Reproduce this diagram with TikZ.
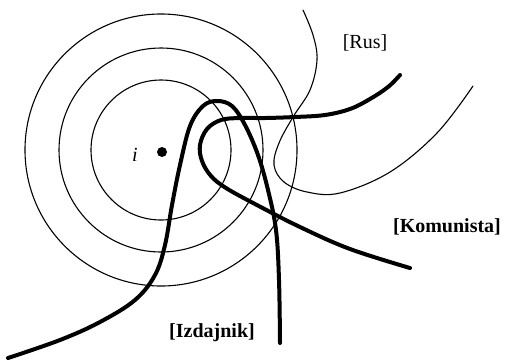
\documentclass[tikz,border=0pt]{standalone}
\usepackage{fontspec}
\setmainfont{Liberation Serif}
\begin{document}
\begin{tikzpicture}[x=1pt, y=-1pt, line cap=round, line join=round,
    ring/.style={line width=1.1pt},
    strand/.style={line width=4pt},
    tag/.style={font=\fontsize{20}{24}\selectfont}]
    \useasboundingbox (0,0) rectangle (505,360);
    \coordinate (c) at (161,150);
    \foreach \r in {70,102,136} \draw[ring] (c) circle[radius=\r];
    \fill (162,152) circle[radius=5];
    \node[tag,font=\fontsize{20}{24}\selectfont\itshape] (i) at (135,155) {i};
    % thin boundary
    \draw[ring] plot[smooth,tension=0.6] coordinates {(303,10) (313,35) (317,60) (310,90) (293,117) (279,143) (274,165) (284,182) (307,192) (340,193) (390,172) (437,133) (473,86)};
    % thick strands
    \draw[strand] plot[smooth,tension=0.6] coordinates {(8,358) (60,340) (100,322) (135,300) (155,275) (165,245) (172,205) (180,165) (190,126) (203,106) (217,101) (232,106) (245,125) (258,155) (268,190) (276,230) (279,280) (280,343)};
    \draw[strand] plot[smooth,tension=0.6] coordinates {(400,75) (388,87) (370,99) (350,109) (325,115) (295,117) (265,118) (240,118) (221,120) (207,129) (200,145) (202,161) (211,176) (226,188) (255,204) (300,227) (350,249) (410,268)};
    \node[tag] (rus) at (365,43) {[Rus]};
    \node[tag,font=\fontsize{20}{24}\selectfont\bfseries] (komunista) at (447,227) {[Komunista]};
    \node[tag,font=\fontsize{20}{24}\selectfont\bfseries] (izdajnik) at (212,333) {[Izdajnik]};
\end{tikzpicture}
\end{document}
